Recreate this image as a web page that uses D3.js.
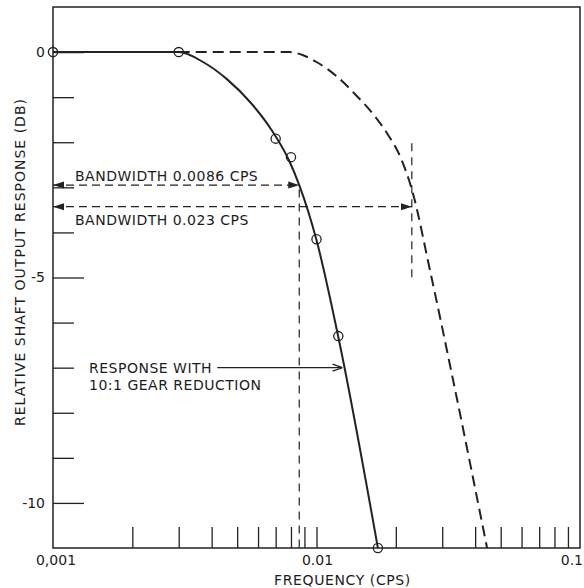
<!DOCTYPE html>
<html>
<head>
<meta charset="utf-8">
<script src="https://cdn.jsdelivr.net/npm/d3@7/dist/d3.min.js"></script>
<style>
  body { margin: 0; background: #fff; }
  svg text { font-family: "DejaVu Sans", sans-serif; font-size: 14px; fill: #1c1c1c; }
</style>
</head>
<body>
<script>
// values (frequency in cps, response in db)

// measured points (circles)
const measuredFreq = [0.001, 0.003, 0.0070, 0.0080, 0.0100, 0.0121, 0.0171];
const measuredDb   = [0, 0, -1.92, -2.33, -4.15, -6.30, -11.0];

// faired curve with 10:1 gear reduction (solid)
const gearFreq = [0.001, 0.003, 0.00371, 0.00457, 0.00564, 0.00672, 0.00786, 0.0086, 0.0100, 0.0121, 0.0171];
const gearDb   = [0, 0, -0.22, -0.60, -1.13, -1.71, -2.40, -2.95, -4.17, -6.32, -11.0];

// curve without gear reduction (dashed)
const directFreq = [0.003, 0.0079, 0.0089, 0.0100, 0.0120, 0.01425, 0.01637, 0.01852, 0.02075, 0.02304, 0.02696, 0.0330, 0.0444];
const directDb   = [0, 0, -0.07, -0.22, -0.55, -0.98, -1.37, -1.80, -2.31, -3.06, -4.84, -7.28, -11.0];

// bandwidth markers
const bandFreq   = [0.0086, 0.023];
const bandDb     = [-2.95, -3.43];
const bandLabels = ["BANDWIDTH 0.0086 CPS", "BANDWIDTH 0.023 CPS"];
const guideTopDb    = [-3.05, -2.02];
const guideBottomDb = [-11.0, -5.12];

// note arrow
const noteFreq = [0.0042, 0.01255];
const noteDb   = -7.0;
const noteLines = ["RESPONSE WITH", "10:1 GEAR REDUCTION"];

// ticks
const xLabelTicks = [0.001, 0.01, 0.1];
const xLabelText  = ["0,001", "0.01", "0.1"];
const yMajorTicks = [0, -5, -10];
const yMinorTicks = [-1, -2, -3, -4, -6, -7, -8, -9];

const ink = "#222";

let margin = null,
    width = null,
    height = null;

let svg = null;
let x, y = null; // scales

setupCanvasSize();
appendSvg("body");
setupXScale();
setupYScale();
appendFrame();
appendXAxis();
appendYAxis();
appendCurves();
appendPoints();
appendBandwidthMarks();
appendNote();

function setupCanvasSize() {
  margin = {top: 7, left: 53, bottom: 40, right: 4};
  width = 584 - margin.left - margin.right;
  height = 588 - margin.top - margin.bottom;
}

function appendSvg(domElement) {
  const root = d3.select(domElement).append("svg")
    .attr("width", width + margin.left + margin.right)
    .attr("height", height + margin.top + margin.bottom);

  const defs = root.append("defs");
  defs.append("marker")
    .attr("id", "solidHead")
    .attr("markerUnits", "userSpaceOnUse")
    .attr("viewBox", "0 -4 11 8")
    .attr("refX", 11).attr("refY", 0)
    .attr("markerWidth", 11).attr("markerHeight", 8)
    .attr("orient", "auto-start-reverse")
    .append("path")
    .attr("d", "M0,-3.5L11,0L0,3.5Z")
    .style("fill", ink);
  defs.append("marker")
    .attr("id", "openHead")
    .attr("markerUnits", "userSpaceOnUse")
    .attr("viewBox", "0 -5 10 10")
    .attr("refX", 10).attr("refY", 0)
    .attr("markerWidth", 10).attr("markerHeight", 10)
    .attr("orient", "auto")
    .append("path")
    .attr("d", "M0,-3.5L10,0L0,3.5")
    .style("fill", "none")
    .style("stroke", ink)
    .style("stroke-width", 1.2);

  svg = root.append("g")
    .attr("transform", `translate(${margin.left}, ${margin.top})`);
}

// log frequency axis, 0.001 .. 0.1 cps
function setupXScale() {
  x = d3.scaleLog()
    .domain([0.001, 0.1])
    .range([0, width]);
}

function setupYScale() {
  y = d3.scaleLinear()
    .domain([-11, 1])
    .range([height, 0]);
}

function appendFrame() {
  svg.append("rect")
    .attr("x", 0).attr("y", 0)
    .attr("width", width).attr("height", height)
    .style("fill", "none")
    .style("stroke", ink)
    .style("stroke-width", 1.5);
}

function appendXAxis() {
  const ticks = x.ticks().filter(d => d > 0.0011 && d < 0.099);
  const ax = svg.append("g")
    .attr("transform", `translate(0, ${height})`)
    .call(d3.axisBottom(x)
      .tickValues(ticks)
      .tickSize(-21)
      .tickFormat(""));
  ax.select(".domain").remove();
  ax.selectAll("line").style("stroke", ink).style("stroke-width", 1.3);

  // the last label sits against the right edge of the picture
  const labels = svg.append("g")
    .attr("transform", `translate(0, ${height})`);
  labels.selectAll("text")
    .data(xLabelTicks)
    .enter().append("text")
    .attr("x", (d, i) => x(d) + (i === 0 ? 3 : (i === 2 ? 3 : 1)))
    .attr("y", 17)
    .style("text-anchor", (d, i) => i === 2 ? "end" : "middle")
    .text((d, i) => xLabelText[i]);

  svg.append("text")
    .attr("x", width / 2 + 26)
    .attr("y", height + 37)
    .style("text-anchor", "middle")
    .style("letter-spacing", "0.6px")
    .text("FREQUENCY (CPS)");
}

function appendYAxis() {
  const minor = svg.append("g")
    .call(d3.axisLeft(y).tickValues(yMinorTicks).tickSize(-21).tickFormat(""));
  minor.select(".domain").remove();
  minor.selectAll("line").style("stroke", ink).style("stroke-width", 1.3);

  const major = svg.append("g")
    .call(d3.axisLeft(y).tickValues(yMajorTicks).tickSize(-31).tickPadding(8)
      .tickFormat(d => String(d)));
  major.select(".domain").remove();
  major.selectAll("line").style("stroke", ink).style("stroke-width", 1.3);
  major.selectAll("text")
    .attr("fill", null)
    .style("font-family", "\"DejaVu Sans\", sans-serif")
    .style("font-size", "14px")
    .style("fill", "#1c1c1c");

  svg.append("text")
    .attr("transform", "rotate(-90)")
    .attr("x", -255)
    .attr("y", -28)
    .style("text-anchor", "middle")
    .style("letter-spacing", "1px")
    .text("RELATIVE SHAFT OUTPUT RESPONSE (DB)");
}

function appendCurves() {
  const line = d3.line()
    .x(d => x(d[0]))
    .y(d => y(d[1]))
    .curve(d3.curveMonotoneX);

  svg.append("path")
    .datum(d3.zip(gearFreq, gearDb))
    .attr("d", line)
    .style("fill", "none")
    .style("stroke", ink)
    .style("stroke-width", 2);

  svg.append("path")
    .datum(d3.zip(directFreq, directDb))
    .attr("d", line)
    .style("fill", "none")
    .style("stroke", ink)
    .style("stroke-width", 2)
    .style("stroke-dasharray", "11,6");
}

function appendPoints() {
  svg.selectAll("circle.pt")
    .data(d3.zip(measuredFreq, measuredDb))
    .enter().append("circle")
    .attr("class", "pt")
    .attr("cx", d => x(d[0]))
    .attr("cy", d => y(d[1]))
    .attr("r", 4.6)
    .style("fill", "none")
    .style("stroke", ink)
    .style("stroke-width", 1.3);
}

function appendBandwidthMarks() {
  // horizontal arrows from the axis to the curve
  svg.selectAll("line.band")
    .data(bandFreq)
    .enter().append("line")
    .attr("class", "band")
    .attr("x1", x(0.001))
    .attr("x2", d => x(d))
    .attr("y1", (d, i) => y(bandDb[i]))
    .attr("y2", (d, i) => y(bandDb[i]))
    .attr("marker-start", "url(#solidHead)")
    .attr("marker-end", "url(#solidHead)")
    .style("stroke", ink)
    .style("stroke-width", 1.2)
    .style("stroke-dasharray", "8,5");

  // vertical guides
  svg.selectAll("line.guide")
    .data(bandFreq)
    .enter().append("line")
    .attr("class", "guide")
    .attr("x1", d => x(d))
    .attr("x2", d => x(d))
    .attr("y1", (d, i) => y(guideTopDb[i]))
    .attr("y2", (d, i) => y(guideBottomDb[i]))
    .style("stroke", ink)
    .style("stroke-width", 1.2)
    .style("stroke-dasharray", "8,6");

  svg.selectAll("text.band")
    .data(bandLabels)
    .enter().append("text")
    .attr("class", "band")
    .attr("x", 22)
    .attr("y", (d, i) => y(bandDb[i]) + (i === 0 ? -4 : 18))
    .style("letter-spacing", "0.5px")
    .text(d => d);
}

function appendNote() {
  svg.append("line")
    .attr("x1", x(noteFreq[0]))
    .attr("x2", x(noteFreq[1]))
    .attr("y1", y(noteDb))
    .attr("y2", y(noteDb))
    .attr("marker-end", "url(#openHead)")
    .style("stroke", ink)
    .style("stroke-width", 1.2);

  svg.selectAll("text.note")
    .data(noteLines)
    .enter().append("text")
    .attr("class", "note")
    .attr("x", 36)
    .attr("y", (d, i) => y(noteDb) + 5 + i * 17)
    .style("letter-spacing", "0.5px")
    .text(d => d);
}
</script>
</body>
</html>
